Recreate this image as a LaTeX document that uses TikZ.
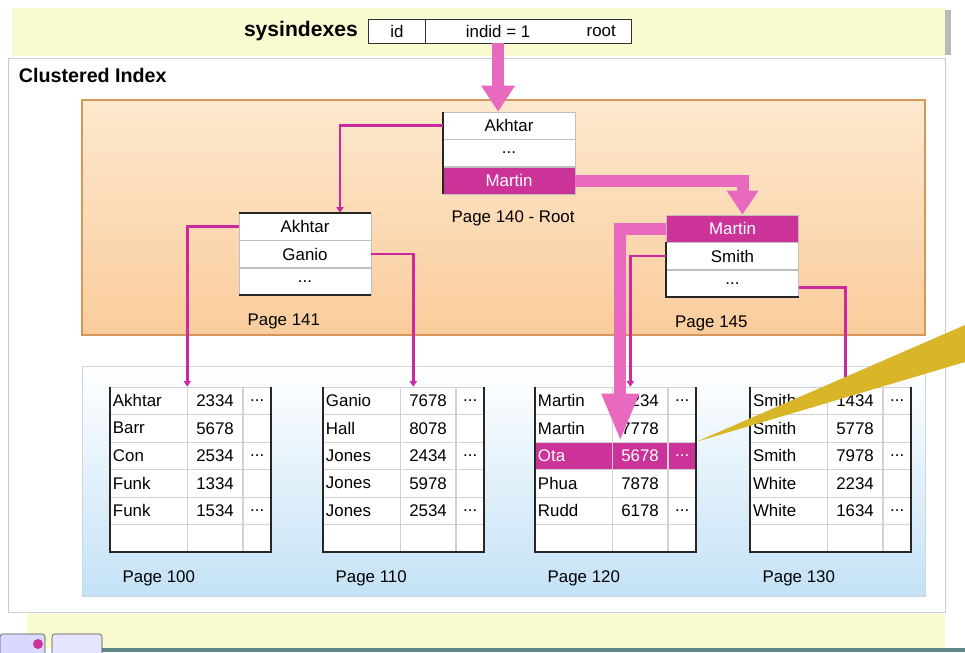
\documentclass[tikz,border=0pt]{standalone}
\usepackage{fontspec}
\setmainfont{Liberation Sans}
\usetikzlibrary{positioning, arrows.meta}

\definecolor{bandyellow}{RGB}{250,250,208}
\definecolor{orangetop}{RGB}{253,232,206}
\definecolor{orangebot}{RGB}{250,204,156}
\definecolor{orangeedge}{RGB}{214,150,90}
\definecolor{bluebot}{RGB}{196,226,246}
\definecolor{blueedge}{RGB}{200,215,228}
\definecolor{hotmagenta}{RGB}{204,51,153}
\definecolor{linkmagenta}{RGB}{204,40,160}
\definecolor{arrowpink}{RGB}{232,105,190}
\definecolor{calloutgold}{RGB}{216,182,40}
\definecolor{bartealgray}{RGB}{96,134,136}

\newcommand{\moredots}{...}

\tikzset{
  idxrow/.style={draw=gray!50, fill=white, minimum width=3.3cm, minimum height=0.675cm, inner sep=0pt},
  hotrow/.style={idxrow, fill=hotmagenta, text=white},
  cell/.style={draw=gray!35, fill=white, minimum height=0.6875cm, inner sep=0pt},
  namecell/.style={cell, minimum width=1.925cm, text width=1.775cm, inner xsep=0.075cm, align=left},
  syscell/.style={fill=white, minimum height=0.575cm, inner sep=0pt},
  frame/.style={line width=1.4pt, black!85},
  link/.style={draw=linkmagenta, line width=1.8pt, -{Triangle[width=5pt,length=4pt]}},
  bigarrow/.style={draw=arrowpink, line width=0.3cm, -{Triangle[width=0.8cm,length=0.65cm]}},
}

\begin{document}
\begin{tikzpicture}[x=0.025cm, y=-0.025cm, font=\fontsize{12}{14}\selectfont]
\useasboundingbox (0,0) rectangle (965,652);
\fill[white] (0,0) rectangle (965,652);

% bands and panels
\fill[bandyellow] (12,8) rectangle (945,56);
\fill[gray!55] (945,10) rectangle (951,55);
\draw[gray!40, fill=white] (8,58) rectangle (945,612);
\fill[bandyellow] (27,614) rectangle (945,648);
\fill[bartealgray] (100,648) rectangle (965,652);
\draw[black!70, fill=blue!15, rounded corners=2pt] (0,634) rectangle (45,660);
\fill[hotmagenta] (38,644) circle (5);
\draw[black!70, fill=blue!10, rounded corners=2pt] (52,634) rectangle (102,660);
\shadedraw[top color=orangetop, bottom color=orangebot, draw=orangeedge, line width=1pt] (82,100) rectangle (925,335);
\shadedraw[top color=white, bottom color=bluebot, draw=blueedge] (82,366) rectangle (925,596);

% sysindexes row
\node[syscell, minimum width=1.4cm] (sysid) at (397,31.5) {id};
\node[syscell, minimum width=3.625cm, right=0pt of sysid] (sysind) {indid = 1};
\node[syscell, minimum width=1.5cm, right=0pt of sysind] (sysroot) {root};
\draw[black!80, line width=0.8pt] (sysid.north west) rectangle (sysroot.south east);
\draw[black!80, line width=0.8pt] (sysid.north east) -- (sysid.south east);
\node[left=0.15cm of sysid, font=\bfseries\fontsize{15}{17}\selectfont] (syslbl) {sysindexes};

\node[anchor=west, font=\bfseries\fontsize{14}{16}\selectfont] (title) at (14,75) {Clustered Index};

% root page
\node[idxrow] (root1) at (509,125.5) {Akhtar};
\node[idxrow, below=0pt of root1] (root2) {\moredots};
\node[hotrow, below=0pt of root2] (root3) {Martin};
\draw[frame] (root1.north west) -- (root3.south west);
\node[anchor=west] (root-lbl) at ([xshift=0.1cm, yshift=-0.6cm]root3.south west) {Page 140 - Root};

% intermediate pages
\node[idxrow] (p141-1) at (305,226.5) {Akhtar};
\node[idxrow, below=0pt of p141-1] (p141-2) {Ganio};
\node[idxrow, below=0pt of p141-2] (p141-3) {\moredots};
\draw[frame] (p141-1.north west) -- (p141-1.north east);
\draw[frame] (p141-3.south west) -- (p141-3.south east);
\node[anchor=west] (p141-lbl) at ([xshift=0.1cm, yshift=-0.65cm]p141-3.south west) {Page 141};

\node[hotrow] (p145-1) at (732.5,228.5) {Martin};
\node[idxrow, below=0pt of p145-1] (p145-2) {Smith};
\node[idxrow, below=0pt of p145-2] (p145-3) {\moredots};
\draw[frame] (p145-2.north west) -- (p145-3.south west) -- (p145-3.south east);
\node[anchor=west] (p145-lbl) at ([xshift=0.1cm, yshift=-0.65cm]p145-3.south west) {Page 145};

% leaf pages
\foreach \i/\nm/\num/\dd in {1/Akhtar/2334/\moredots, 2/Barr/5678/{}, 3/Con/2534/\moredots, 4/Funk/1334/{}, 5/Funk/1534/\moredots, 6/{}/{}/{}}{
  \node[namecell] (p100-\i-n) at (148.5,{373.25+27.5*\i}) {\nm};
  \node[cell, minimum width=1.375cm, right=0pt of p100-\i-n] (p100-\i-k) {\num};
  \node[cell, minimum width=0.7cm, right=0pt of p100-\i-k] (p100-\i-d) {\dd};
}
\foreach \i/\nm/\num/\dd in {1/Ganio/7678/\moredots, 2/Hall/8078/{}, 3/Jones/2434/\moredots, 4/Jones/5978/{}, 5/Jones/2534/\moredots, 6/{}/{}/{}}{
  \node[namecell] (p110-\i-n) at (361.5,{373.25+27.5*\i}) {\nm};
  \node[cell, minimum width=1.375cm, right=0pt of p110-\i-n] (p110-\i-k) {\num};
  \node[cell, minimum width=0.7cm, right=0pt of p110-\i-k] (p110-\i-d) {\dd};
}
\foreach \i/\nm/\num/\dd/\bg/\fg in {1/Martin/1234/\moredots/white/black, 2/Martin/7778/{}/white/black, 3/Ota/5678/\moredots/hotmagenta/white, 4/Phua/7878/{}/white/black, 5/Rudd/6178/\moredots/white/black, 6/{}/{}/{}/white/black}{
  \node[namecell, fill=\bg, text=\fg] (p120-\i-n) at (573.5,{373.25+27.5*\i}) {\nm};
  \node[cell, fill=\bg, text=\fg, minimum width=1.375cm, right=0pt of p120-\i-n] (p120-\i-k) {\num};
  \node[cell, fill=\bg, text=\fg, minimum width=0.7cm, right=0pt of p120-\i-k] (p120-\i-d) {\dd};
}
\foreach \i/\nm/\num/\dd in {1/Smith/1434/\moredots, 2/Smith/5778/{}, 3/Smith/7978/\moredots, 4/White/2234/{}, 5/White/1634/\moredots, 6/{}/{}/{}}{
  \node[namecell] (p130-\i-n) at (788.5,{373.25+27.5*\i}) {\nm};
  \node[cell, minimum width=1.375cm, right=0pt of p130-\i-n] (p130-\i-k) {\num};
  \node[cell, minimum width=0.7cm, right=0pt of p130-\i-k] (p130-\i-d) {\dd};
}
\foreach \pg/\pnum in {p100/100, p110/110, p120/120, p130/130}{
  \draw[frame] (\pg-1-n.north west) -- (\pg-6-n.south west) -- (\pg-6-d.south east) -- (\pg-1-d.north east);
  \node[anchor=west] (\pg-lbl) at ([xshift=0.2cm, yshift=-0.65cm]\pg-6-n.south west) {Page \pnum};
}

% pointers between pages
\draw[link] (root1.west) -| ([xshift=0.875cm]p141-1.north);
\draw[link] (p141-1.west) -| (p100-1-k.north west);
\draw[link] (p141-2.east) -| ([xshift=0.325cm]p110-1-k.north west);
\draw[link] (p145-2.west) -| ([xshift=0.45cm]p120-1-k.north west);
\draw[link] ([yshift=-0.1cm]p145-3.east) -| ([xshift=0.45cm]p130-1-k.north west);

% search path
\draw[bigarrow] (sysind.south) -- (sysind.south |- root1.north);
\draw[bigarrow, -{Triangle[width=0.75cm,length=0.6cm]}] (root3.east) -| ([xshift=0.25cm]p145-1.north);
\draw[bigarrow, -{Triangle[width=0.85cm,length=1.2cm]}] (p145-1.west) -| ([xshift=0.2cm]p120-3-k.north west);

% callout pointer
\fill[calloutgold] (p120-3-d.north east) -- (965,325) -- (965,362) -- cycle;
\end{tikzpicture}
\end{document}
